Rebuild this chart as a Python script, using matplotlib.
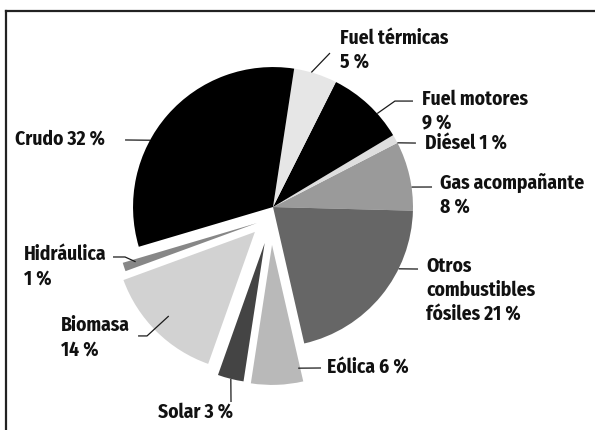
import numpy as np
import matplotlib
matplotlib.use('Agg')
import matplotlib.pyplot as plt
from matplotlib.lines import Line2D

# Data (counterclockwise from the right-hand horizontal)
sources = ['Gas acompañante', 'Diésel', 'Fuel motores', 'Fuel térmicas', 'Crudo',
           'Hidráulica', 'Biomasa', 'Solar', 'Eólica', 'Otros\ncombustibles\nfósiles']
shares = [8, 1, 9, 5, 32, 1, 14, 3, 6, 21]
value_sep = ['\n', ' ', '\n', '\n', ' ', '\n', '\n', ' ', ' ', ' ']

# Style
colors = ['#9a9a9a', '#dedede', '#000000', '#e6e6e6', '#000000',
          '#878787', '#d2d2d2', '#444444', '#b9b9b9', '#666666']
# explode distance (pie radii) and direction (degrees) for the renewable slices
explode_dist = [0, 0, 0, 0, 0, 0.162, 0.22, 0.264, 0.271, 0]
explode_dir = [0, 0, 0, 0, 0, 225, 234, 257, 268.5, 0]

# Label layout in pie-radius units: text position (left, baseline of last line),
# leader anchor on the slice (angle, fraction of radius) and leader path to the text
label_pos = [(1.193, -0.043), (1.086, 0.414), (1.064, 0.557), (0.479, 0.993), (-1.843, 0.443),
             (-1.779, -0.557), (-1.514, -1.064), (-0.821, -1.507), (0.386, -1.193), (1.093, -0.814)]
anchor = [(8.2, 1.0), (27.3, 1.0), (41.9, 1.0), (74.1, 1.0), (151.5, 1.0),
          (197.7, 0.91), (224.3, 0.86), (256, 1.0), (282, 0.9), (-26.2, 1.0)]
leader = [[(1.136, 0.143)],
          [(1.021, 0.457)],
          [(0.871, 0.757), (1.0, 0.757)],
          [(0.407, 1.100)],
          [(-1.057, 0.479)],
          [(-1.057, -0.357), (-1.143, -0.357)],
          [(-0.9, -0.921), (-0.964, -0.921)],
          [(-0.3, -1.393)],
          [(0.343, -1.15)],
          [(1.036, -0.443)]]

FONT = ['Fira Sans Condensed', 'DejaVu Sans']

fig = plt.figure(figsize=(5.95, 4.30), dpi=100)
ax = fig.add_axes([0, 0, 1, 1])

wedges, _ = ax.pie(shares, colors=colors, startangle=-1.5, counterclock=True,
                   radius=1, wedgeprops=dict(linewidth=0))

for i, w in enumerate(wedges):
    # shift the exploded slices in their own direction
    a = np.deg2rad(explode_dir[i])
    cx, cy = explode_dist[i] * np.cos(a), explode_dist[i] * np.sin(a)
    w.set_center((cx, cy))

    # leader line from the slice to its label
    ang, frac = anchor[i]
    t = np.deg2rad(ang)
    pts = [(cx + frac * w.r * np.cos(t), cy + frac * w.r * np.sin(t))] + leader[i]
    xs, ys = zip(*pts)
    ax.plot(xs, ys, color='#1a1a1a', lw=0.9, solid_capstyle='butt')

    text = f"{sources[i]}{value_sep[i]}{shares[i]} %"
    ax.text(label_pos[i][0], label_pos[i][1], text, ha='left', va='baseline',
            fontsize=14, fontweight='bold', family=FONT, linespacing=1.33, color='#111111')

ax.set_xlim(-1.95, 2.3)
ax.set_ylim(-1.593, 1.479)
ax.set_aspect('equal', adjustable='box')
ax.axis('off')

# frame lines along the top and left edges
fig.add_artist(Line2D([6 / 595, 1], [1 - 11 / 430, 1 - 11 / 430], transform=fig.transFigure,
                      color='#222222', lw=1.6))
fig.add_artist(Line2D([6 / 595, 6 / 595], [0, 1 - 11 / 430], transform=fig.transFigure,
                      color='#222222', lw=1.6))

fig.savefig('out.png', dpi=100)
